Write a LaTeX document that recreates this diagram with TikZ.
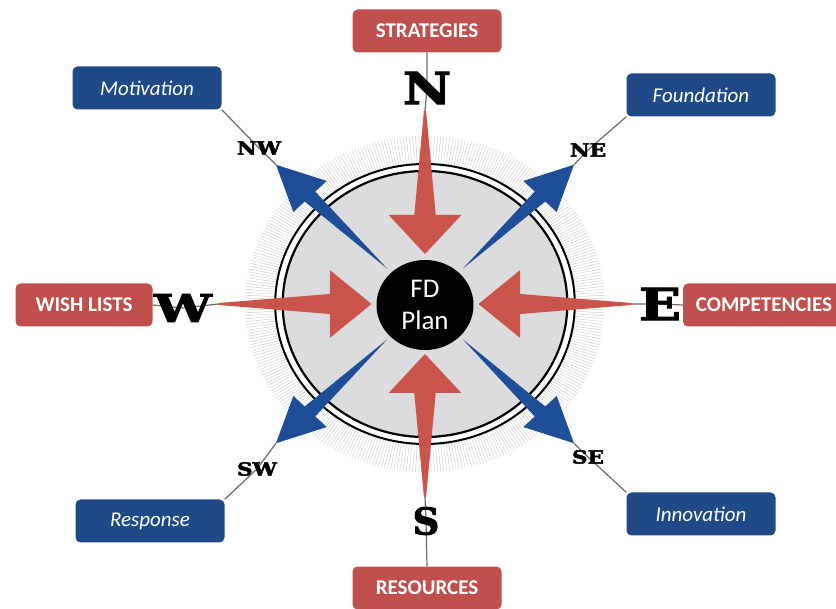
\documentclass[tikz,border=0pt]{standalone}
\usepackage{fontspec}
\setmainfont{Carlito}
\newfontfamily\compassfont{DejaVu Serif}[BoldFeatures={FakeBold=2.5}]
\usetikzlibrary{shapes.geometric,backgrounds}

\definecolor{boxred}{HTML}{C0504D}
\definecolor{boxblue}{HTML}{1F4A87}
\definecolor{arrowred}{HTML}{C9544B}
\definecolor{arrowblue}{HTML}{1F4E98}
\definecolor{diskgray}{HTML}{DCDCDE}
\definecolor{tickgray}{HTML}{D2D2D2}
\definecolor{linkgray}{HTML}{6E6A66}

\def\ptfont#1{\compassfont\bfseries\fontsize{#1}{#1}\selectfont}
\def\wide#1#2{\scalebox{#1}[1]{#2}}
\def\redshape{(193,1) -- (89,10) -- (89,34) -- (50,0) -- (89,-34) -- (89,-10) -- (193,-1) -- cycle}
\def\blueshape{(50,0) -- (152,7) -- (152,22) -- (197,0) -- (152,-22) -- (152,-7) -- cycle}

\tikzset{
  labelbox/.style={rounded corners=5pt, text=white, inner sep=0pt,
                   minimum width=149pt, minimum height=43pt},
  redbox/.style={labelbox, fill=boxred, font=\fontsize{21}{21}\selectfont\bfseries},
  bluebox/.style={labelbox, fill=boxblue, font=\fontsize{21}{21}\selectfont\itshape},
  bigpoint/.style={font=\ptfont{44}, inner sep=0pt},
  smallpoint/.style={font=\ptfont{18}, inner sep=0pt},
  link/.style={draw=linkgray, line width=1.2pt},
}

\begin{document}
\begin{tikzpicture}[x=1pt, y=-1pt]
                    \useasboundingbox (0,0) rectangle (836,609);
                    \begin{scope}[shift={(425,304)}, xscale=1.07]
                      \foreach \a in {0,1,...,359}
                        \draw[tickgray, line width=0.5pt] (\a:141) -- (\a:168);
                      \draw[line width=2pt, fill=white] (0,0) circle (140pt);
                      \draw[line width=2.2pt, fill=diskgray] (0,0) circle (133pt);
                      \foreach \ang/\where in {90/n, 180/w, -90/s, 0/e} {
                        \begin{scope}[rotate=\ang]
                          \fill[arrowred] \redshape;
                          \coordinate (\where tail) at (193,0);
                        \end{scope}
                      }
                      \foreach \ang/\where in {135/nw, 45/ne, -45/se, -135/sw} {
                        \begin{scope}[rotate=\ang]
                          \fill[arrowblue] \blueshape;
                          \coordinate (\where tip) at (197,0);
                        \end{scope}
                      }
                    \end{scope}
                    \node[ellipse, fill=black, minimum width=97pt, minimum height=90pt,
                          inner sep=0pt, text=white, align=center,
                          font=\fontsize{27}{32}\selectfont] (plan) at (425,305) {FD\\Plan};

                    \node[redbox] (strat) at (427,31) {STRATEGIES};
                    \node[redbox, minimum width=137pt] (wish) at (84,305) {WISH LISTS};
                    \node[redbox, minimum width=162pt] (comp) at (764,305) {COMPETENCIES};
                    \node[redbox] (res) at (427,588) {RESOURCES};
                    \node[bluebox] (motiv) at (147,88) {Motivation};
                    \node[bluebox] (found) at (701,95) {Foundation};
                    \node[bluebox] (resp) at (150,521) {Response};
                    \node[bluebox] (innov) at (701,514) {Innovation};

                    \node[bigpoint] (n) at (427,88) {\wide{1.2}{N}};
                    \node[bigpoint, font=\ptfont{38}] (w) at (183,308) {\wide{1.35}{W}};
                    \node[bigpoint] (e) at (660,304) {\wide{1.25}{E}};
                    \node[bigpoint, font=\ptfont{37}] (s) at (426,521) {S};
                    \node[smallpoint] (nw) at (259,148) {\wide{1.2}{NW}};
                    \node[smallpoint] (ne) at (588,150) {\wide{1.2}{NE}};
                    \node[smallpoint] (se) at (588,457) {\wide{1.2}{SE}};
                    \node[smallpoint] (sw) at (257,469) {\wide{1.2}{SW}};

                    \begin{scope}[on background layer]
                      \fill[white] (0,0) rectangle (836,609);
                      \draw[link] (strat.south) -- (n.center) -- (ntail);
                      \draw[link] (wish.east) -- (w.center) -- (wtail);
                      \draw[link] (comp.west) -- (e.center) -- (etail);
                      \draw[link] (res.north) -- (s.center) -- (stail);
                      \draw[link] (motiv.south east) -- (nw.center) -- (nwtip);
                      \draw[link] (found.south west) -- (ne.center) -- (netip);
                      \draw[link] (innov.north west) -- (se.center) -- (setip);
                      \draw[link] (resp.north east) -- (sw.center) -- (swtip);
                    \end{scope}
                  \end{tikzpicture}
\end{document}
